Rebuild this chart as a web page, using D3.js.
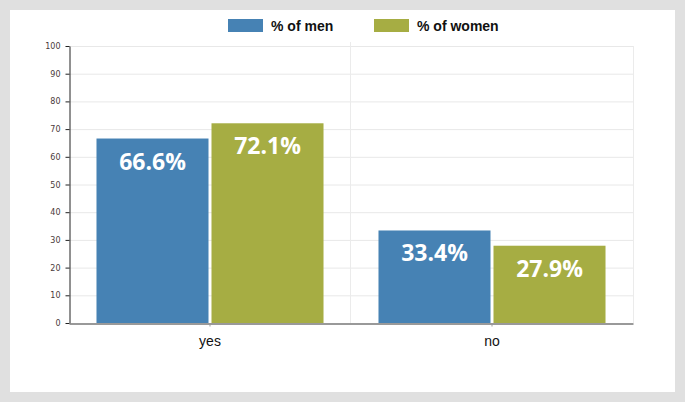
<!DOCTYPE html>
<html><head><meta charset="utf-8">
<script src="https://cdn.jsdelivr.net/npm/d3@7"></script>
<style>
html,body{margin:0;padding:0;background:#e0e0e0;}
svg{display:block;}
</style></head>
<body>
<svg id="chart" width="685" height="402"></svg>
<script>
const categories = ["yes", "no"];
const seriesNames = ["% of men", "% of women"];
const menValues = [66.6, 33.4];
const womenValues = [72.1, 27.9];
const yTicks = [0, 10, 20, 30, 40, 50, 60, 70, 80, 90, 100];
const colors = ["#4682b4", "#a6ad43"];

const svg = d3.select("#chart");
svg.append("rect").attr("x", 10).attr("y", 10).attr("width", 665).attr("height", 382).attr("fill", "#fff");

const m = {left: 69, right: 633, top: 46, bottom: 323};
const x0 = d3.scaleBand().domain(categories).range([m.left, m.right]).paddingInner(0).paddingOuter(0);
const x1 = d3.scaleBand().domain(seriesNames).range([0, x0.bandwidth()]).paddingOuter(0.239).paddingInner(0.026);
const y = d3.scaleLinear().domain([0, 100]).range([m.bottom, m.top]);

// gridlines
svg.append("g").selectAll("line").data(yTicks.slice(1)).join("line")
  .attr("x1", m.left).attr("x2", m.right)
  .attr("y1", d => y(d) + 0.5).attr("y2", d => y(d) + 0.5)
  .attr("stroke", "#e8e8e8").attr("stroke-width", 1);
// vertical separators
svg.append("g").selectAll("line").data(categories.slice(1)).join("line")
  .attr("x1", d => x0(d) - 0.5).attr("x2", d => x0(d) - 0.5)
  .attr("y1", 42).attr("y2", m.bottom)
  .attr("stroke", "#ebebeb");
svg.append("line").attr("x1", m.right + 0.5).attr("x2", m.right + 0.5)
  .attr("y1", m.top).attr("y2", m.bottom).attr("stroke", "#ebebeb");

const data = categories.map((c, i) => ({cat: c, vals: [menValues[i], womenValues[i]]}));

const groups = svg.append("g").selectAll("g").data(data).join("g")
  .attr("transform", d => `translate(${x0(d.cat)},0)`);
groups.selectAll("rect").data(d => d.vals.map((v, j) => ({v, s: seriesNames[j], j}))).join("rect")
  .attr("x", d => x1(d.s)).attr("width", x1.bandwidth())
  .attr("y", d => y(d.v)).attr("height", d => y(0) - y(d.v))
  .attr("fill", d => colors[d.j]);
groups.selectAll("text").data(d => d.vals.map((v, j) => ({v, s: seriesNames[j], j}))).join("text")
  .attr("x", d => x1(d.s) + x1.bandwidth() / 2)
  .attr("y", d => y(d.v) + 31)
  .attr("text-anchor", "middle")
  .attr("fill", "#fff").attr("font-family", "Open Sans, sans-serif")
  .attr("font-weight", "bold").attr("font-size", 23)
  .text(d => d.v.toFixed(1) + "%");

// y axis
const yAxis = svg.append("g").attr("transform", `translate(${m.left + 0.5},0)`)
  .call(d3.axisLeft(y).tickValues(yTicks).tickSize(4).tickSizeOuter(0));
yAxis.select(".domain").attr("stroke", "#222");
yAxis.selectAll(".tick line").attr("stroke", "#222");
yAxis.selectAll("text").attr("font-family", "Verdana, DejaVu Sans, sans-serif").attr("font-size", 8).attr("fill", "#4a3a3a").attr("dx", -2);

// x axis
const xAxis = svg.append("g").attr("transform", `translate(0,${m.bottom + 0.5})`)
  .call(d3.axisBottom(x0).tickSize(3).tickSizeOuter(0));
xAxis.select(".domain").attr("stroke", "#777").attr("stroke-width", 1.5);
xAxis.selectAll(".tick line").attr("stroke", "#999");
xAxis.selectAll("text").attr("font-family", "Arial, Liberation Sans, sans-serif").attr("font-size", 14).attr("fill", "#111").attr("dy", "1.15em");

// legend
const legendX = [228, 374];
const lg = svg.append("g").selectAll("g").data(seriesNames).join("g")
  .attr("transform", (d, i) => `translate(${legendX[i]},19)`);
lg.append("rect").attr("width", 35).attr("height", 13).attr("fill", (d, i) => colors[i]);
lg.append("text").attr("x", 43).attr("y", 11.5).text(d => d)
  .attr("font-family", "Arial, Liberation Sans, sans-serif").attr("font-weight", "bold")
  .attr("font-size", 14).attr("fill", "#111");
</script>
</body></html>
